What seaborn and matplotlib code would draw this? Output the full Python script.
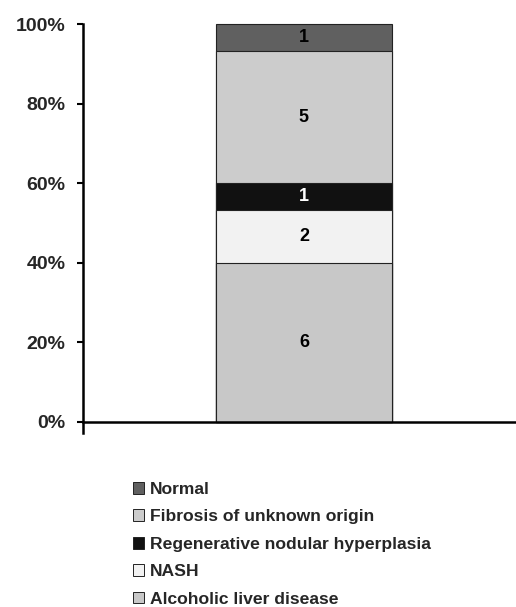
import matplotlib
matplotlib.use("Agg")
import matplotlib.pyplot as plt
import numpy as np
import pandas as pd
import seaborn as sns
from matplotlib.patches import Patch

# stacked from bottom to top
categories = ["Alcoholic liver disease", "NASH", "Regenerative nodular hyperplasia",
              "Fibrosis of unknown origin", "Normal"]
counts = [6, 2, 1, 5, 1]
colors = ["#c8c8c8", "#f2f2f2", "#111111", "#cccccc", "#606060"]
label_colors = ["black", "black", "white", "black", "black"]

df = pd.DataFrame({"category": categories, "count": counts})
df["pct"] = df["count"] / df["count"].sum() * 100
df["top"] = df["pct"].cumsum()
df["mid"] = df["top"] - df["pct"] / 2
df["group"] = ""

sns.set_theme(style="white")
plt.rcParams["font.family"] = ["Liberation Sans", "DejaVu Sans"]
plt.rcParams["font.weight"] = "bold"

fig = plt.figure(figsize=(5.16, 6.07), dpi=100)
ax = fig.add_axes([83 / 516, 0.287, 1 - 83 / 516, 0.960 - 0.287])

# overlay cumulative bars, tallest first
for i in reversed(range(len(df))):
    row = df.iloc[i]
    sns.barplot(x=[row["group"]], y=[row["top"]], color=colors[i], saturation=1,
                width=0.4, edgecolor="#222222", linewidth=0.8, ax=ax)
for p in ax.patches:
    p.set_clip_on(False)

for i, row in df.iterrows():
    ax.text(0, row["mid"], str(row["count"]), ha="center", va="center",
            fontsize=13, fontweight="bold", color=label_colors[i])

ax.set_xlim(-0.502, 0.482)
ax.set_ylim(-2.8, 100)
ax.set_yticks([0, 20, 40, 60, 80, 100])
ax.set_yticklabels([f"{v}%" for v in [0, 20, 40, 60, 80, 100]])
ax.set_xticks([])
ax.set_xlabel("")
ax.set_ylabel("")
ax.tick_params(axis="y", left=True, length=4.5, width=1.5, pad=8, labelsize=14,
               color="black")
for lab in ax.get_yticklabels():
    lab.set_fontweight("bold")
ax.spines["top"].set_visible(False)
ax.spines["right"].set_visible(False)
ax.spines["bottom"].set_position(("data", 0))
for s in ["left", "bottom"]:
    ax.spines[s].set_color("black")
    ax.spines[s].set_linewidth(1.8)

handles = [Patch(facecolor=colors[i], edgecolor="#222222", linewidth=0.7, label=categories[i])
           for i in reversed(range(len(categories)))]
fig.legend(handles=handles, loc="upper left", bbox_to_anchor=(126 / 516, 1 - 475 / 607),
           frameon=False, prop={"weight": "bold", "size": 12.6},
           handlelength=0.65, handleheight=0.65, handletextpad=0.3, labelspacing=0.71,
           borderaxespad=0)

fig.savefig("out.png", dpi=100)
